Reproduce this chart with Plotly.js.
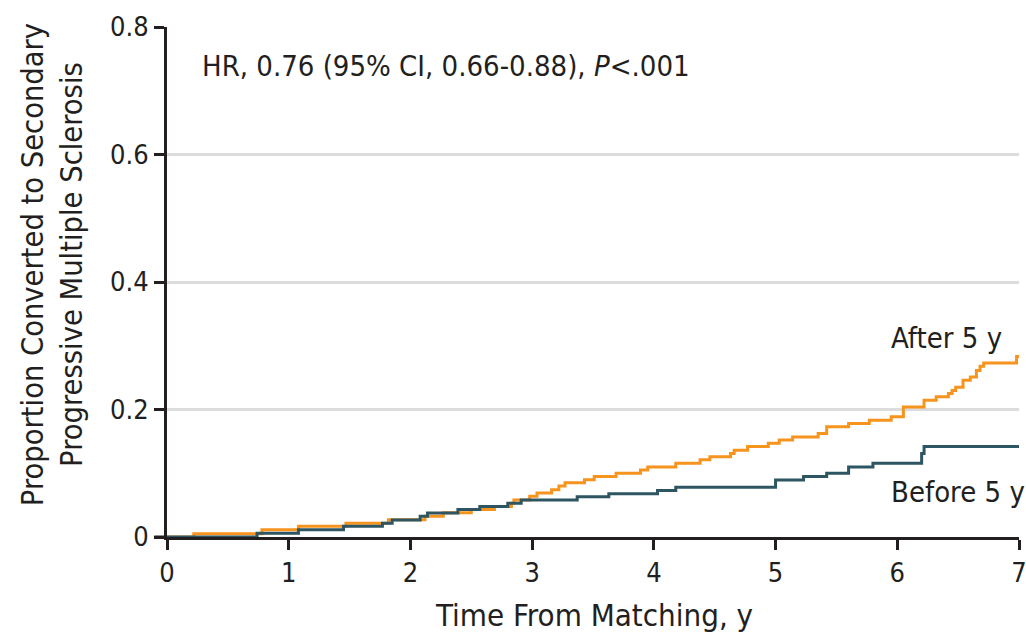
<!DOCTYPE html>
<html>
<head>
<meta charset="utf-8">
<script src="https://cdn.plot.ly/plotly-3.0.1.min.js"></script>
<style>html,body{margin:0;padding:0;background:#fff;}#chart{width:1026px;height:635px;}</style>
</head>
<body>
<div id="chart"></div>
<script>
// Kaplan-Meier style cumulative incidence
var afterX = [0, 0.22, 0.78, 1.08, 1.47, 1.82, 2.12, 2.27, 2.50, 2.69, 2.83, 2.85, 2.98, 3.04, 3.16, 3.22, 3.27, 3.43, 3.51, 3.69, 3.89, 3.95, 4.18, 4.38, 4.46, 4.63, 4.66, 4.77, 4.94, 5.03, 5.14, 5.35, 5.42, 5.60, 5.77, 5.95, 6.05, 6.22, 6.32, 6.42, 6.45, 6.48, 6.54, 6.60, 6.65, 6.68, 6.71, 6.98, 7.0];
var afterY = [0, 0.005, 0.0115, 0.017, 0.0215, 0.027, 0.0325, 0.038, 0.043, 0.048, 0.053, 0.058, 0.064, 0.069, 0.074, 0.080, 0.085, 0.090, 0.095, 0.100, 0.105, 0.110, 0.1156, 0.121, 0.126, 0.131, 0.136, 0.142, 0.147, 0.152, 0.157, 0.1625, 0.173, 0.178, 0.183, 0.1885, 0.204, 0.2146, 0.220, 0.225, 0.230, 0.235, 0.246, 0.251, 0.261, 0.268, 0.273, 0.283, 0.283];

var beforeX = [0, 0.74, 1.08, 1.45, 1.77, 1.85, 2.08, 2.14, 2.39, 2.57, 2.80, 2.91, 3.37, 3.63, 4.03, 4.18, 5.00, 5.23, 5.42, 5.60, 5.80, 6.20, 6.22, 7.0];
var beforeY = [0, 0.0058, 0.0115, 0.0167, 0.0215, 0.0267, 0.0325, 0.0377, 0.043, 0.048, 0.053, 0.058, 0.063, 0.0677, 0.073, 0.078, 0.0896, 0.095, 0.100, 0.110, 0.1156, 0.131, 0.142, 0.142];

var xTicks = [0, 1, 2, 3, 4, 5, 6, 7];
var yTicks = [0, 0.2, 0.4, 0.6, 0.8];
var yTickText = ["0", "0.2", "0.4", "0.6", "0.8"];

var seriesNames = ["After 5 y", "Before 5 y"];
var hrText = "HR, 0.76 (95% CI, 0.66-0.88), <i>P</i><.001";
var xTitle = "Time From Matching, y";
var yTitle = "Proportion Converted to Secondary<br>Progressive Multiple Sclerosis";

var FONT = "Liberation Sans Narrow, DejaVu Sans Condensed, Arial Narrow, sans-serif";
var INK = "#231f20";

var traces = [
  {x: afterX, y: afterY, type: "scatter", mode: "lines", line: {shape: "hv", color: "#f7941d", width: 3}, name: seriesNames[0], hoverinfo: "skip"},
  {x: beforeX, y: beforeY, type: "scatter", mode: "lines", line: {shape: "hv", color: "#2d5562", width: 3}, name: seriesNames[1], hoverinfo: "skip"}
];

var layout = {
  width: 1026, height: 635,
  margin: {l: 166.5, r: 7, t: 27, b: 98},
  paper_bgcolor: "#fff", plot_bgcolor: "#fff",
  showlegend: false,
  font: {family: FONT, color: INK, size: 27},
  xaxis: {
    range: [0, 7], tickvals: xTicks, ticktext: xTicks.map(String),
    showgrid: false, zeroline: false,
    showline: true, linecolor: INK, linewidth: 3,
    ticks: "outside", ticklen: 10, tickwidth: 3, tickcolor: INK,
    ticklabeloverflow: "allow",
    tickfont: {family: FONT, size: 27, color: INK}
  },
  yaxis: {
    range: [0, 0.8], tickvals: yTicks, ticktext: yTickText,
    showgrid: true, gridcolor: "#dcdcdc", gridwidth: 3,
    zeroline: false,
    showline: true, linecolor: INK, linewidth: 3,
    ticks: "outside", ticklen: 10, tickwidth: 3, tickcolor: INK,
    tickfont: {family: FONT, size: 27, color: INK}
  },
  shapes: [
    {type: "line", xref: "paper", yref: "paper", x0: -0.015, x1: 0, y0: 0, y1: 0, line: {color: INK, width: 3}}
  ],
  annotations: [
    {text: hrText, xref: "paper", yref: "paper", x: 0.039, y: 0.924, xanchor: "left", yanchor: "middle", showarrow: false, font: {family: FONT, size: 29, color: INK}},
    {text: seriesNames[0], xref: "paper", yref: "paper", x: 0.848, y: 0.39, xanchor: "left", yanchor: "middle", showarrow: false, font: {family: FONT, size: 29, color: INK}},
    {text: seriesNames[1], xref: "paper", yref: "paper", x: 0.848, y: 0.088, xanchor: "left", yanchor: "middle", showarrow: false, font: {family: FONT, size: 29, color: INK}},
    {text: xTitle, xref: "paper", yref: "paper", x: 0.501, y: -0.153, xanchor: "center", yanchor: "middle", showarrow: false, font: {family: FONT, size: 31, color: INK}},
    {text: yTitle, xref: "paper", yref: "paper", x: -0.135, y: 0.535, xanchor: "center", yanchor: "middle", textangle: -90, showarrow: false, font: {family: FONT, size: 30.5, color: INK}}
  ]
};

Plotly.newPlot("chart", traces, layout, {displayModeBar: false, staticPlot: true});
</script>
</body>
</html>
